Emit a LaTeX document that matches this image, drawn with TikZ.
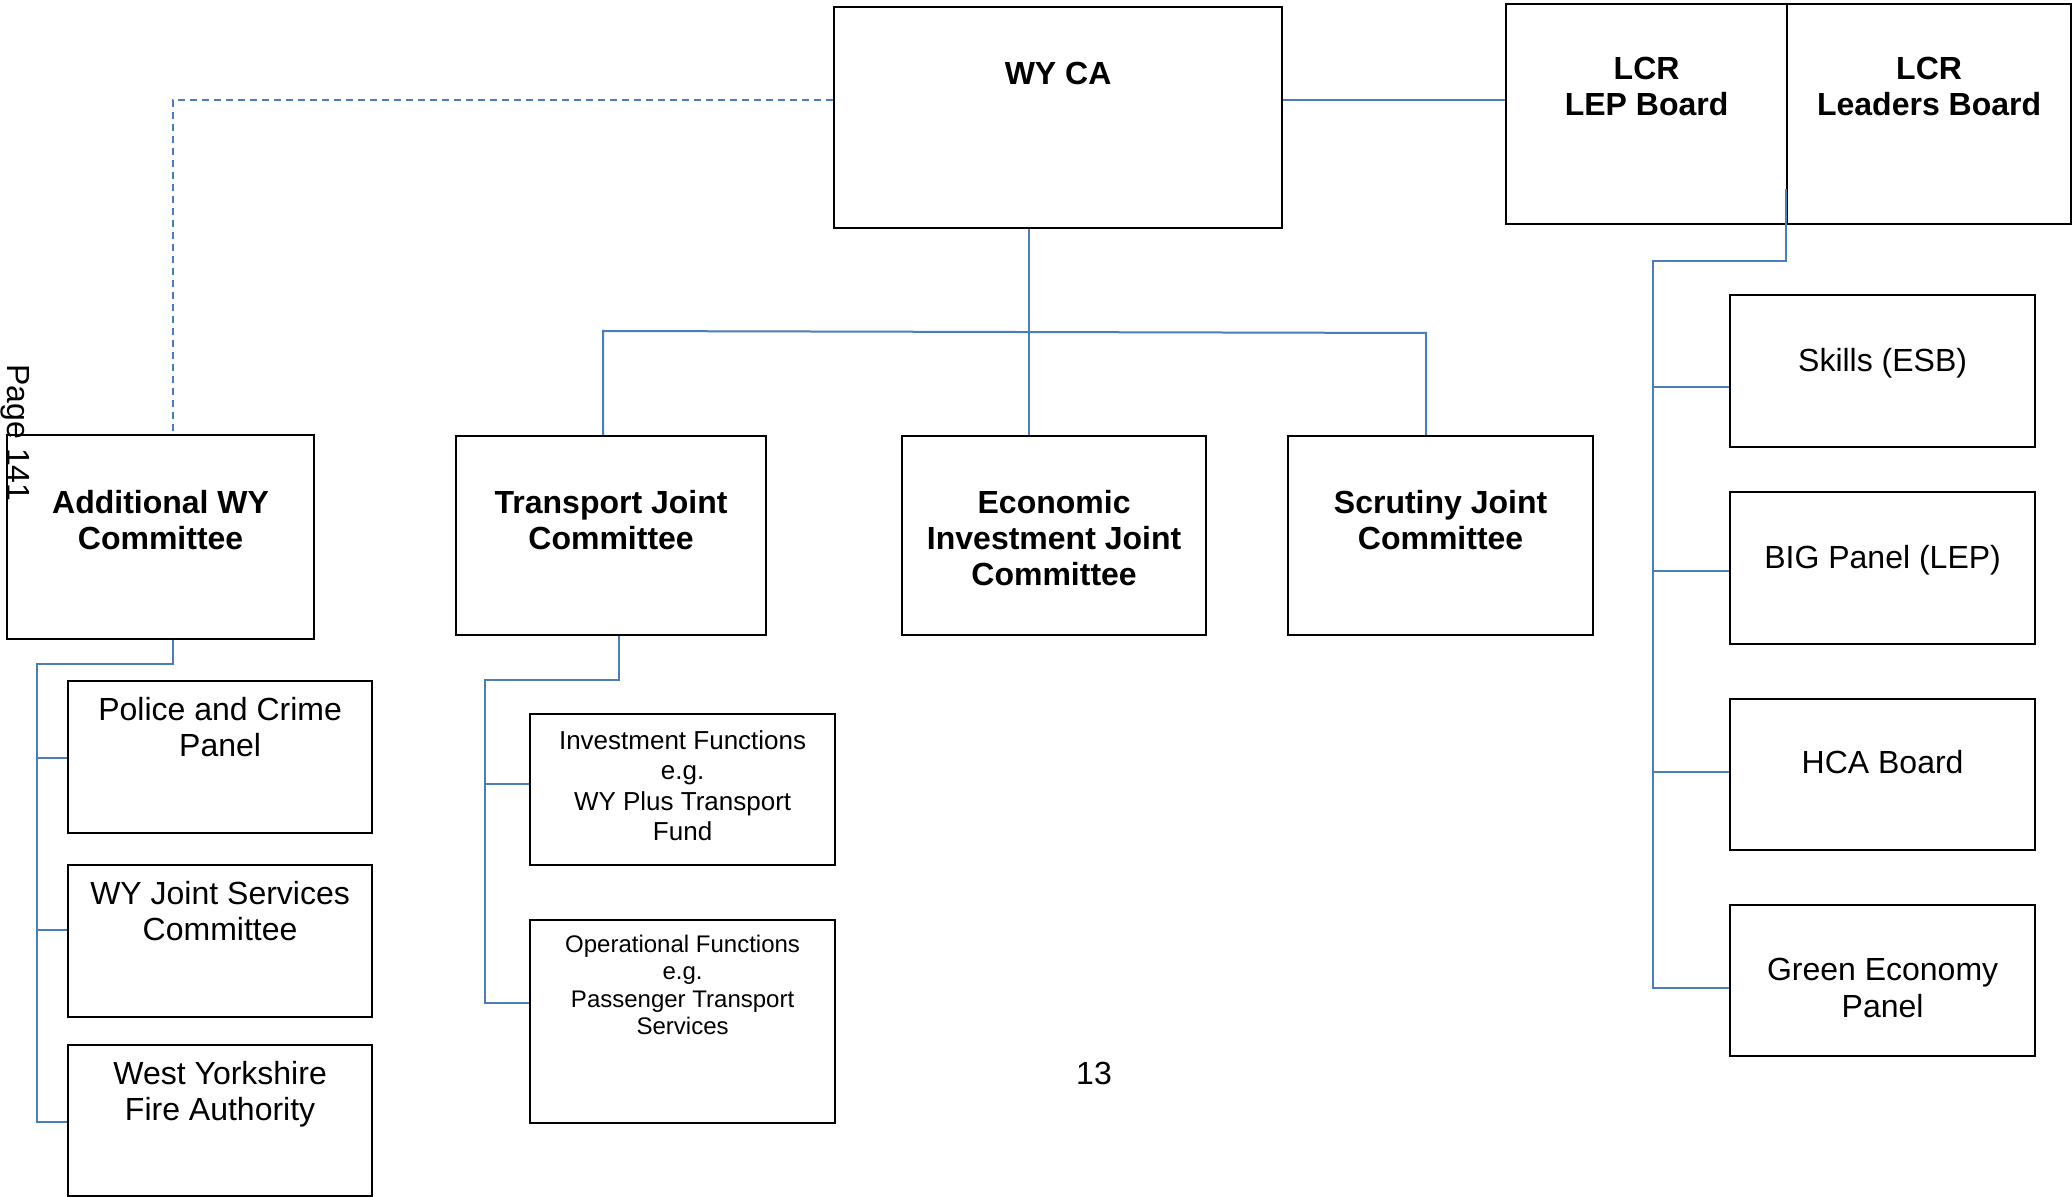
\documentclass[tikz,border=0pt]{standalone}
\usepackage{fontspec}
\setmainfont{Liberation Sans}
\usepackage{tikz}
\usetikzlibrary{positioning, calc}
\definecolor{wyLink}{HTML}{4A7EBB}
\tikzset{
  orgbox/.style={draw, line width=1.1pt, inner sep=0pt, anchor=north west},
  headtxt/.style={inner sep=0pt, align=center, font=\fontsize{16}{18}\selectfont\bfseries},
  subtxt/.style={inner sep=0pt, align=center, font=\fontsize{16}{18.2}\selectfont},
  fntxt/.style={inner sep=0pt, align=center, font=\fontsize{13}{15.2}\selectfont},
  optxt/.style={inner sep=0pt, align=center, font=\fontsize{12}{13.6}\selectfont},
  link/.style={line width=1pt, wyLink},
  dashlink/.style={line width=1pt, wyLink, dash pattern=on 3.5pt off 2.5pt}
}

\begin{document}
\begin{tikzpicture}[x=0.5pt, y=-0.5pt]
  \useasboundingbox (0,0) rectangle (2072,1197);

  % top row
  \node[orgbox, minimum width=224pt, minimum height=110.5pt] (wyca) at (833,6) {};
  \node[orgbox, minimum width=140.5pt, minimum height=110pt] (lep) at (1505,3) {};
  \node[orgbox, minimum width=142pt, minimum height=110pt] (leaders) at (1786,3) {};
  \node[headtxt, below=28pt of wyca.north] (wycat) {WY CA};
  \node[headtxt, below=27pt of lep.north] (lept) {LCR\\LEP Board};
  \node[headtxt, below=27pt of leaders.north] (leaderst) {LCR\\Leaders Board};

  % committees
  \node[orgbox, minimum width=153.5pt, minimum height=102pt] (addwy) at (6,434) {};
  \node[orgbox, minimum width=155pt, minimum height=99.5pt] (tjc) at (455,435) {};
  \node[orgbox, minimum width=152pt, minimum height=99.5pt] (eijc) at (901,435) {};
  \node[orgbox, minimum width=152.5pt, minimum height=99.5pt] (sjc) at (1287,435) {};
  \node[headtxt, below=28pt of addwy.north] (addwyt) {Additional WY\\Committee};
  \node[headtxt, below=27.5pt of tjc.north] (tjct) {Transport Joint\\Committee};
  \node[headtxt, below=27.5pt of eijc.north] (eijct) {Economic\\Investment Joint\\Committee};
  \node[headtxt, below=27.5pt of sjc.north] (sjct) {Scrutiny Joint\\Committee};

  % under additional WY
  \node[orgbox, minimum width=152pt, minimum height=76pt] (police) at (67,680) {};
  \node[orgbox, minimum width=152pt, minimum height=76pt] (wyjs) at (67,864) {};
  \node[orgbox, minimum width=152pt, minimum height=75.5pt] (wyfa) at (67,1044) {};
  \node[subtxt, below=8.5pt of police.north] (policet) {Police and Crime\\Panel};
  \node[subtxt, below=8.5pt of wyjs.north] (wyjst) {WY Joint Services\\Committee};
  \node[subtxt, below=8.5pt of wyfa.north] (wyfat) {West Yorkshire\\Fire Authority};

  % under transport
  \node[orgbox, minimum width=152.5pt, minimum height=75.5pt] (invf) at (529,713) {};
  \node[orgbox, minimum width=152.5pt, minimum height=101.5pt] (opf) at (529,919) {};
  \node[fntxt, below=8.5pt of invf.north] (invft) {Investment Functions\\e.g.\\WY Plus Transport\\Fund};
  \node[optxt, below=8pt of opf.north] (opft) {Operational Functions\\e.g.\\Passenger Transport\\Services};

  % LCR panels
  \node[orgbox, minimum width=152.5pt, minimum height=76pt] (skills) at (1729,294) {};
  \node[orgbox, minimum width=152.5pt, minimum height=76pt] (big) at (1729,491) {};
  \node[orgbox, minimum width=152.5pt, minimum height=75.5pt] (hca) at (1729,698) {};
  \node[orgbox, minimum width=152.5pt, minimum height=75.5pt] (green) at (1729,904) {};
  \node[subtxt, below=27pt of skills.north] (skillst) {Skills (ESB)};
  \node[subtxt, below=27pt of big.north] (bigt) {BIG Panel (LEP)};
  \node[subtxt, below=26pt of hca.north] (hcat) {HCA Board};
  \node[subtxt, below=27pt of green.north] (greent) {Green Economy\\Panel};

  % page marks
  \node[subtxt, rotate=-90] (pagemark) at (15,433) {Page 141};
  \node[subtxt] (pageno) at (1094,1073) {13};

  % connectors
  \coordinate (lvl) at (0,100);
  \coordinate (dashc) at (173,100);
  \draw[dashlink] (wyca.west |- lvl) -- (dashc) -- (dashc |- addwy.north);
  \draw[link] (wyca.east |- lvl) -- (lep.west |- lvl);

  \coordinate (bus) at (1029,331);
  \coordinate (busl) at (603,331);
  \coordinate (busr) at (1426,333);
  \draw[link] (bus |- wyca.south) -- (bus |- eijc.north);
  \draw[link] (busl |- tjc.north) -- (busl) -- (busr) -- (busr |- sjc.north);

  \coordinate (aw) at (173,664);
  \coordinate (awx) at (37,664);
  \draw[link] (aw |- addwy.south) -- (aw) -- (awx) -- (awx |- 0,1122) -- (wyfa.west |- 0,1122);
  \draw[link] (awx |- 0,758) -- (police.west |- 0,758);
  \draw[link] (awx |- 0,930) -- (wyjs.west |- 0,930);

  \coordinate (tj) at (619,680);
  \coordinate (tjx) at (485,680);
  \draw[link] (tj |- tjc.south) -- (tj) -- (tjx) -- (tjx |- 0,1003) -- (opf.west |- 0,1003);
  \draw[link] (tjx |- 0,784) -- (invf.west |- 0,784);

  \coordinate (lc) at (1786,189);
  \coordinate (lcx) at (1653,261);
  \draw[link] (lc) -- (lc |- lcx) -- (lcx) -- (lcx |- 0,988) -- (green.west |- 0,988);
  \draw[link] (lcx |- 0,387) -- (skills.west |- 0,387);
  \draw[link] (lcx |- 0,571) -- (big.west |- 0,571);
  \draw[link] (lcx |- 0,772) -- (hca.west |- 0,772);
\end{tikzpicture}
\end{document}
